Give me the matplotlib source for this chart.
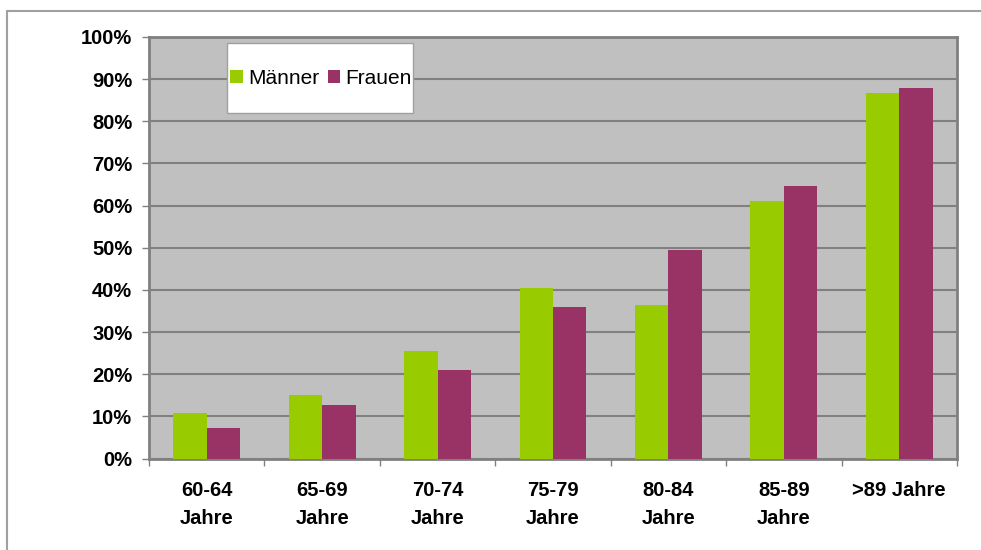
import matplotlib.pyplot as plt
from matplotlib.patches import Rectangle
import numpy as np

plt.rcParams['font.family'] = ['Liberation Sans', 'DejaVu Sans']

categories = ['60-64\nJahre', '65-69\nJahre', '70-74\nJahre', '75-79\nJahre',
              '80-84\nJahre', '85-89\nJahre', '>89 Jahre']
maenner = [10.7, 15.1, 25.5, 40.5, 36.4, 61.1, 86.8]
frauen = [7.3, 12.6, 21.0, 36.0, 49.5, 64.7, 87.9]

GREEN = '#99CC00'
PURPLE = '#993366'
GRID = '#808080'

fig = plt.figure(figsize=(9.81, 5.5), dpi=100)
ax = fig.add_axes([149 / 981, 91.5 / 550, 808 / 981, 421.5 / 550])
ax.set_facecolor('#C0C0C0')

x = np.arange(len(categories))
w = 0.29
ax.bar(x - w / 2, maenner, w, color=GREEN, label='Männer', zorder=3)
ax.bar(x + w / 2, frauen, w, color=PURPLE, label='Frauen', zorder=3)

ax.set_xlim(-0.5, len(categories) - 0.5)
ax.set_ylim(0, 100)
ax.set_yticks(range(0, 101, 10))
ax.set_yticklabels([f'{v}%' for v in range(0, 101, 10)])
ax.yaxis.grid(True, color=GRID, linewidth=1.5, zorder=1)
ax.set_axisbelow(True)

# category labels centred, ticks on the boundaries between groups
ax.set_xticks(x)
ax.set_xticklabels(categories, linespacing=1.6)
ax.set_xticks(np.arange(-0.5, len(categories)), minor=True)
ax.tick_params(axis='x', which='major', length=0, pad=16)
ax.tick_params(axis='x', which='minor', length=5, color=GRID, width=1)
ax.tick_params(axis='y', length=5, color=GRID, width=1, pad=7)
for lab in ax.get_xticklabels() + ax.get_yticklabels():
    lab.set_fontsize(14.5)
    lab.set_fontweight('bold')

for side in ['left', 'bottom', 'top', 'right']:
    ax.spines[side].set_color(GRID)
    ax.spines[side].set_linewidth(2)

# legend box inside the plot area
ax.add_patch(Rectangle((227, 550 - 113), 186, 70, transform=None,
                       facecolor='white', edgecolor='#A0A0A0', linewidth=1,
                       zorder=5))
leg = ax.legend(loc='center', bbox_to_anchor=(321 / 981, (550 - 78) / 550),
                bbox_transform=fig.transFigure, ncol=2, frameon=False,
                fontsize=15, handlelength=0.6, handleheight=0.6,
                handletextpad=0.25, columnspacing=0.4, borderpad=0)
leg.set_zorder(6)

# outer chart frame, right and bottom edges run off the figure
fig.patches.append(Rectangle((7, -100), 1100, 550 - 10.5 + 100, transform=None,
                             facecolor='none', edgecolor='#A0A0A0',
                             linewidth=1.5))

fig.savefig('out.png', dpi=100)
